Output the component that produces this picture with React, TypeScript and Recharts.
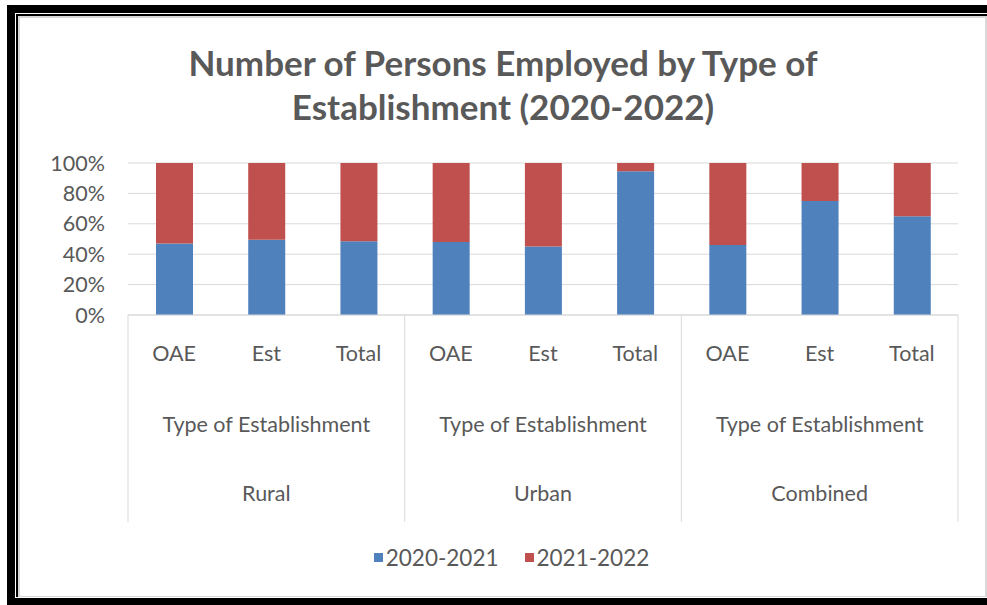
import { BarChart, Bar, XAxis, YAxis, CartesianGrid, Legend } from "recharts";

const categories = ["OAE", "Est", "Total", "OAE", "Est", "Total", "OAE", "Est", "Total"];
const groups = ["Rural", "Urban", "Combined"];
const groupSubtitle = "Type of Establishment";
const share2021 = [47, 49.5, 48.5, 48, 45, 94.5, 46, 75, 65];
const share2022 = [53, 50.5, 51.5, 52, 55, 5.5, 54, 25, 35];
const yTicks = [0, 20, 40, 60, 80, 100];
const seriesNames = ["2020-2021", "2021-2022"];

const data = categories.map((label, i) => ({
  label,
  group: groups[Math.floor(i / 3)],
  y2021: share2021[i],
  y2022: share2022[i],
}));

const FONT = "Lato, 'Liberation Sans', sans-serif";
const TEXT = "#595959";
const GRID = "#d9d9d9";
const BLUE = "#4f81bd";
const RED = "#c0504d";

const W = 987;
const H = 605;
const PLOT_LEFT = 128;
const PLOT_RIGHT = 958;
const BAND = (PLOT_RIGHT - PLOT_LEFT) / categories.length;
const LABEL_SIZE = 21.5;

const CategoryTick = (props: any) => {
  const { x, y, payload, index } = props;
  const pos = index % 3;
  const g = data[index]?.group ?? "";
  return (
    <g>
      <text x={x} y={y + 38} dy="0.35em" textAnchor="middle" fill={TEXT} fontSize={LABEL_SIZE} fontFamily={FONT}>
        {payload.value}
      </text>
      {pos === 1 && (
        <>
          <text x={x} y={y + 109} dy="0.35em" textAnchor="middle" fill={TEXT} fontSize={LABEL_SIZE} fontFamily={FONT}>
            {groupSubtitle}
          </text>
          <text x={x} y={y + 178} dy="0.35em" textAnchor="middle" fill={TEXT} fontSize={LABEL_SIZE} fontFamily={FONT}>
            {g}
          </text>
        </>
      )}
      {pos === 0 && <line x1={x - BAND / 2} x2={x - BAND / 2} y1={y} y2={y + 207} stroke={GRID} />}
      {index === categories.length - 1 && (
        <line x1={x + BAND / 2} x2={x + BAND / 2} y1={y} y2={y + 207} stroke={GRID} />
      )}
    </g>
  );
};

const LegendContent = () => (
  <div
    style={{
      display: "flex",
      justifyContent: "center",
      alignItems: "center",
      fontFamily: FONT,
      fontSize: 22.5,
      color: TEXT,
      height: 30,
      paddingLeft: 36,
    }}
  >
    {seriesNames.map((n, i) => (
      <span key={n} style={{ display: "flex", alignItems: "center", marginRight: i === 0 ? 26 : 0 }}>
        <span style={{ width: 9, height: 9, background: i === 0 ? BLUE : RED, marginRight: 3, display: "inline-block" }} />
        {n}
      </span>
    ))}
  </div>
);

export default function App() {
  return (
    <div style={{ position: "absolute", left: 0, top: 0, width: W, height: H, overflow: "hidden", background: "#fff" }}>
      {/* frame */}
      <div style={{ position: "absolute", left: 7, top: 5, width: 990, height: 610, background: "#000" }} />
      <div style={{ position: "absolute", left: 15, top: 13, width: 990, height: 585, background: "#fff" }} />
      <div style={{ position: "absolute", left: 16, top: 14, width: 990, height: 583, background: "#000" }} />
      <div
        style={{
          position: "absolute",
          left: 18,
          top: 16,
          width: 965,
          height: 578,
          background: "#fff",
          border: `2px solid ${GRID}`,
          borderBottomWidth: 1,
        }}
      />
      <div
        style={{
          position: "absolute",
          left: 19,
          top: 40,
          width: 968,
          textAlign: "center",
          fontFamily: FONT,
          fontWeight: 700,
          fontSize: 35,
          lineHeight: "44px",
          color: TEXT,
        }}
      >
        Number of Persons Employed by Type of
        <br />
        Establishment (2020-2022)
      </div>
      <div style={{ position: "absolute", left: 0, top: 0 }}>
        <BarChart width={W} height={H} data={data} margin={{ top: 163, right: W - PLOT_RIGHT, left: 0, bottom: 33 }}>
          <CartesianGrid vertical={false} stroke={GRID} />
          <XAxis
            dataKey="label"
            interval={0}
            height={227}
            tickSize={0}
            tickMargin={0}
            axisLine={{ stroke: GRID }}
            tick={CategoryTick}
          />
          <YAxis
            width={PLOT_LEFT}
            domain={[0, 100]}
            ticks={yTicks}
            tickFormatter={(v) => `${v}%`}
            tickSize={0}
            tickMargin={23}
            axisLine={false}
            tickLine={false}
            tick={{ fill: TEXT, fontSize: LABEL_SIZE, fontFamily: FONT }}
          />
          <Legend
            verticalAlign="bottom"
            height={30}
            content={LegendContent}
            wrapperStyle={{ left: 0, width: W }}
          />
          <Bar dataKey="y2021" name={seriesNames[0]} stackId="a" fill={BLUE} barSize={37} isAnimationActive={false} />
          <Bar dataKey="y2022" name={seriesNames[1]} stackId="a" fill={RED} barSize={37} isAnimationActive={false} />
        </BarChart>
      </div>
    </div>
  );
}
